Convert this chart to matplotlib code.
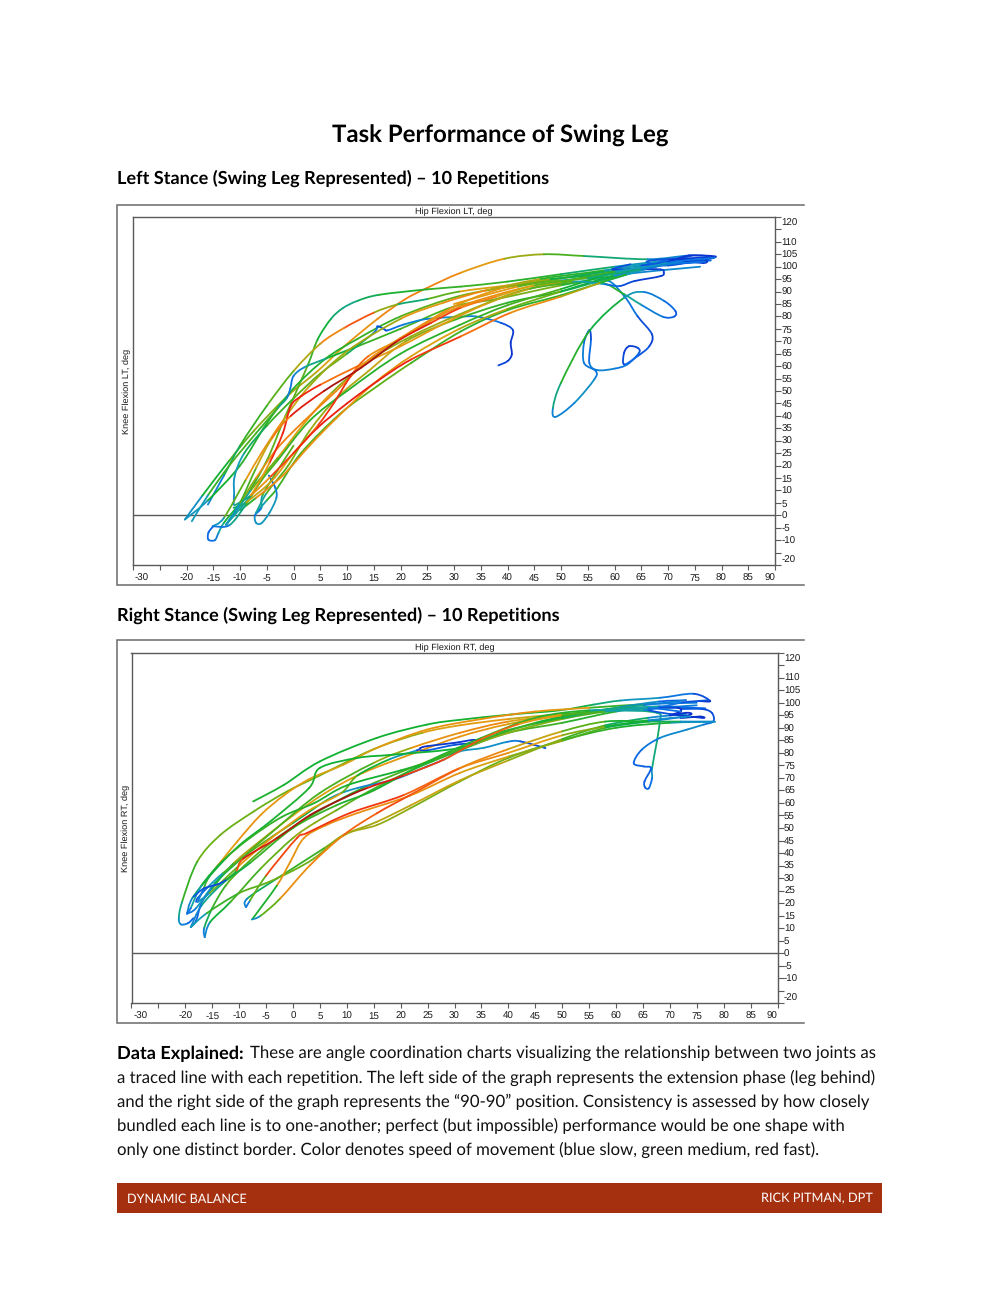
import matplotlib
matplotlib.use("Agg")
import matplotlib.pyplot as plt
from matplotlib.collections import PathCollection
from matplotlib.colors import LinearSegmentedColormap
from matplotlib.path import Path
from matplotlib.patches import Rectangle
from matplotlib.transforms import ScaledTranslation

plt.rcParams["text.hinting"] = "none"

# ---- text -------------------------------------------------------------
TITLE = "Task Performance of Swing Leg"
HEAD_L = "Left Stance (Swing Leg Represented) – 10 Repetitions"
HEAD_R = "Right Stance (Swing Leg Represented) – 10 Repetitions"
BODY_LEAD = "Data Explained:"
BODY = [
    "These are angle coordination charts visualizing the relationship between two joints as",
    "a traced line with each repetition. The left side of the graph represents the extension phase (leg behind)",
    "and the right side of the graph represents the “90-90” position. Consistency is assessed by how closely",
    "bundled each line is to one-another; perfect (but impossible) performance would be one shape with",
    "only one distinct border. Color denotes speed of movement (blue slow, green medium, red fast).",
]
FOOT_L = "DYNAMIC BALANCE"
FOOT_R = "RICK PITMAN, DPT"

# ---- axis ticks --------------------------------------------------------
X_TICKS = list(range(-30, 95, 5))
Y_TICKS = list(range(-20, 125, 5))
X_BLANK = [-25]
Y_BLANK = [-15, 115]

# ---- left stance traces: (hip, knee, speed 0 slow .. 1 fast) -----------
a01 = [(-20.3,-1.7,.1),(-17,8,.35),(-12,22,.5),(-7.4,34,.55),(-1.1,48,.6),(4.5,58,.65),(9.5,68,.7),(15.7,79,.75),(20.7,86.7,.78),(25,91.5,.78),(31.3,97.6,.75),(39.4,103.2,.65),(46.8,105,.55),(54.3,104.3,.45),(66.2,103,.25),(74,104.5,.15),(78.9,104,.08)]
a02 = [(-12.6,-3.8,.1),(-9,7,.45),(-5,22,.5),(-1.5,40,.55),(2.6,60,.5),(4.5,70.7,.45),(7,79,.38),(9.2,83.3,.33),(12,86.3,.33),(16,88.7,.42),(25,90.9,.45),(31.3,92,.48),(40,94,.48),(50,97,.42),(60,100,.3),(68,102,.2),(75,103,.12)]
a03 = [(76,102,.12),(66,100,.25),(52,96,.45),(42,93,.7),(31,90,.65),(25,87,.4),(19.4,84.8,.3),(15,81.5,.88),(9.5,75.4,.82),(5,69,.7),(0,58,.55),(-5,44,.5),(-10,28,.45),(-13,16,.3),(-16,4.3,.08)]
a04 = [(-20.3,-1.7,.1),(-16,6,.4),(-10,20,.45),(-5,37,.45),(0,51,.45),(6,63,.45),(12,71,.45),(20,80,.5),(31,88.2,.55),(42,92.5,.6),(52,96,.45),(60,99,.3),(70,102,.15),(74.5,104.5,.08)]
a07 = [(-7,1,.12),(-5,6,.45),(-3,11,.48),(1.4,25,.5),(8.8,41,.52),(15.7,52,.55),(22,61.3,.52),(31.3,74,.45),(40,82.5,.45),(50,88.5,.47),(58,94,.42),(65,98.5,.25),(72,102,.12)]
a08 = [(-4.6,16,.05),(-3.4,11,.15),(-3.2,7,.25),(-4.5,1,.25),(-6,-3.2,.25),(-7,-3,.25),(-7.2,0,.2),(-6,3,.08),(-5.8,8,.5),(-3,18,.5),(0,28,.55)]
a09 = [(76,100,.1),(62,97,.3),(50,92.5,.5),(38,87,.62),(30,84,.5),(20,75,.5),(12,68,.45),(6,63,.4),(2,59.5,.25),(0,56,.15),(-.6,51,.12),(-1.3,47,.2),(-3,43,.45),(-7,33,.5),(-12,20,.5),(-16,8,.45),(-19,-2.4,.08)]
a10 = [(-11.2,4.3,.1),(-11.1,8,.2),(-11,15.7,.27),(-9.2,25,.3),(-5,36,.45),(0,47,.5),(5,57,.55),(10,65,.55),(15,73.4,.2),(15.7,76,.08),(17,74.8,.06),(17.6,74.4,.08),(20.7,76.8,.18),(25,79,.2),(31.3,79.9,.2),(34.4,79.9,.18),(38.8,77.4,.1),(41,74.5,.05),(40.6,69.4,.03),(40.8,64.7,.03),(40,62,.04),(38.3,60.3,.08)]
a11 = [(30,85,.75),(42,92,.65),(50,94.5,.4),(58.1,94.9,.2),(61.8,88.2,.18),(64.3,80.1,.1),(67,72.8,.05),(66.5,68,.05),(64.3,64,.12),(61.8,60.7,.1),(61.8,65.4,.04),(62.7,68,.05),(64.3,67.4,.05),(64.6,65.4,.1),(62.4,60.7,.12),(60,59,.18),(56.8,58.4,.2),(55.3,61.3,.15),(55.6,70.7,.08),(55.3,74.5,.05),(54.3,69.4,.15),(54.3,61.3,.2),(56.5,58,.1),(56.2,54.6,.2),(52.5,45.2,.25),(49,39.6,.12),(48.5,43.2,.25),(50,53.3,.42),(55.3,74.1,.48),(61.8,87.5,.33),(65.5,89.8,.18),(69.3,86.2,.15),(71.4,82.1,.08),(71.1,79.9,.08),(69,79.9,.13),(64.9,84.8,.22),(61.8,88.9,.4),(57.4,93.6,.5),(50,93,.45),(42,90,.55),(31,80.8,.6),(22,72,.6),(14,62,.55),(7,49,.6),(2,37,.75),(-3,23,.6),(-8,10,.5),(-12.6,-3.8,.1)]
a12 = [(-15,-4.4,.1),(-15.9,-7,.1),(-15.9,-9.8,.12),(-14.7,-10,.15),(-14,-7,.2),(-13,-3,.4),(-10,5,.45),(-7,15,.7),(-3,27,.75),(2,38,.8),(8,50,.75),(14,62.5,.75),(22,74,.75),(31,85,.72),(40,92,.7),(48,95,.5),(58,97,.3),(66,100.5,.15),(72,103.5,.1)]
a13 = [(74,104.5,.1),(68,102,.2),(58,98.5,.35),(46,95,.55),(36,90.5,.7),(28,85.5,.8),(20,79,.62),(10,66,.6),(3,52,.6),(-2,38,.7),(-6,25,.75),(-9,14,.65),(-13,-1,.4),(-15.1,-4.4,.1)]
a15 = [(-7,1,.12),(-5,9,.5),(-1,20,.52),(3,34,.6),(8,47,.6),(14,58,.65),(21,70,.65),(30,78.5,.5),(40,85.5,.45),(50,90,.45),(60,96,.3),(68,100.5,.15),(77,102,.08)]
a17 = [(-10,2,.15),(-7,7,.75),(-2,16,.75),(3,28,.72),(8,39,.72),(15,53,.72),(22,64,.7),(31,75,.65),(40,83,.6),(50,90,.5),(60,96.5,.3),(70,101,.15),(78,102.5,.08)]
a18 = [(78.5,103.5,.08),(70,101,.2),(60,97.5,.35),(50,91,.5),(40,84.5,.5),(31,76.5,.45),(20,65,.45),(10,50,.45),(3,38,.45),(-3,22,.5),(-6,14,.5),(-9,4,.45),(-12,-4,.2),(-15.1,-4.4,.1)]
a19 = [(65,100.5,.1),(70,102,.05),(74,104.5,.02),(78.9,104,.03),(72,103,.05),(76.5,101.5,.02),(76.7,102.5,.02),(70,103,.05),(66,102,.1),(70,100.5,.1),(78.5,103.5,.05)]
a14 = [(63,101,.1),(59.6,98.9,.05),(64,99,.05),(68.6,98.9,.05),(69.2,97.6,.05),(68.6,96.2,.03),(63.7,94.2,.06),(60.9,92.2,.07),(58,93,.15),(52,94,.42),(44,91,.6),(36,85,.68),(28,77,.7),(20,68,.7),(12,60,.72),(5,52.5,.9),(1.5,48,.92),(-.5,44,.92),(-2,33,.92),(-4.5,21,.9),(-8,8,.5),(-12.6,-3.8,.1)]
a16 = [(77,102,.08),(70,101,.2),(60,98,.35),(50,94,.6),(42,91,.72),(30,83,.75),(20,71,.72),(14,64,.75),(10.7,56,.9),(7.5,45,.9),(4.5,36,.88),(0,25,.7),(-4,14,.7),(-9,5,.6),(-11.2,3,.1)]
a06 = [(-11,4,.1),(-8,8,.6),(-4.2,15.7,.85),(0,25,.9),(4.5,35.2,.92),(10,45,.93),(15.7,54,.92),(22,62.7,.92),(31.3,72,.85),(40.6,81.5,.78),(50,88,.7),(57.4,93.6,.55),(62.4,97,.35),(70,101.6,.2),(78.7,103.6,.08)]
a05 = [(-12.6,-3.8,.1),(-10,5,.4),(-7,19,.6),(-4,31,.7),(-.5,40,.9),(5.7,50,.97),(12.6,59.3,1),(19.4,70,.97),(25.7,77.4,.9),(31.3,83.5,.85),(38,88,.75),(45,92.5,.6),(55,95.5,.45),(65,99,.25),(72,102,.12)]
LEFT_TRACES = [a01,a02,a03,a04,a07,a08,a09,a10,a11,a12,a13,a15,a17,a18,a19,a14,a16,a06,a05]

# ---- right stance traces ---------------------------------------------
b01 = [(-7.4,60.6,.45),(-1.7,67.2,.42),(5,76.6,.42),(15.6,86,.42),(24.9,91.3,.42),(31,93.2,.43),(40.4,95.3,.43),(49.6,97,.42),(55.9,99.3,.38),(60.8,100.9,.3),(68.2,102,.2),(74.4,103.6,.1),(77.5,100.7,.04),(75.4,100.7,.02)]
b02 = [(75,99,.1),(68,98,.25),(60,97,.4),(50,95.5,.6),(40,93.5,.7),(31,91,.7),(24,88,.65),(15,81.5,.55),(5,71,.55),(-1.1,64.6,.55),(-7.3,56.6,.55),(-13.5,47.2,.55),(-17.8,36.5,.55),(-20.6,20.5,.4),(-21.2,14,.25),(-20.8,11.5,.2),(-19.5,12,.12),(-18.5,14,.1)]
b03 = [(-19,10.4,.08),(-18,13,.1),(-17,20,.1),(-15,26,.25),(-11,36,.6),(-6,45,.65),(0,55,.65),(6,64,.68),(13,72,.7),(22,79.5,.72),(31,86.5,.72),(40,91.5,.7),(50,95,.6),(60,97.5,.4),(68,98.5,.2),(74,98,.08)]
b06 = [(78.4,92.4,.1),(70,92,.42),(60,90,.45),(50,85,.48),(40,78,.55),(31,68.6,.55),(21.8,57.9,.58),(15.6,51.2,.6),(10,47.9,.62),(5.7,41.8,.5),(-3,29.8,.45),(-8.5,21.8,.3),(-8.8,18.5,.1)]
b09 = [(-16.4,6.4,.05),(-15.4,12.4,.35),(-11.6,20.5,.48),(-6,33.8,.5),(0,46,.58),(4,52,.6),(8,57,.55),(14,64.5,.5),(22,73,.48),(31,81,.45),(40,88,.48),(50,92,.5),(60,96.5,.4),(68,98.5,.2),(76.6,97.7,.08)]
b10 = [(76.6,97.7,.08),(70,98,.15),(60,97,.45),(50,93.5,.55),(40,88,.6),(31,81.5,.6),(22,74,.55),(13,66,.45),(5,57,.45),(-3,46,.5),(-9,35,.55),(-12.5,27,.5),(-15,18,.45),(-16.5,10,.3),(-16.4,6.4,.05)]
b11 = [(-19.7,15.8,.1),(-18,18,.2),(-14.5,28,.3),(-10,37,.5),(-3,50,.5),(5,64,.5),(15,76,.5),(22,82,.7),(31,88,.75),(40,92.5,.75),(50,95,.6),(60,97,.4),(67.6,96,.3),(68.1,92.6,.35),(67.6,84.6,.38),(66.7,73.9,.3),(66.7,69.9,.15),(66.1,65.9,.1),(65.4,66.2,.1),(65.3,68.6,.1),(66.5,73.9,.1),(65.1,74.6,.1),(63.3,75.9,.1),(64.8,81.3,.12),(68.2,86,.18),(73.2,89.3,.22),(76.3,91.3,.2),(78.1,92.6,.1),(77.8,96,.05),(76,97.5,.08),(72,97.5,.1)]
b12 = [(-18,20.5,.05),(-17.7,22,.1),(-16,26,.1),(-13,32,.45),(-7,42,.55),(0,52,.5),(7,62,.3),(12,66,.2),(18.7,69.3,.2),(24.9,74.6,.15),(28,77.3,.15),(31,80.6,.25),(35.4,82,.25),(39.8,84.4,.2),(42.2,84.6,.12),(46.9,81.9,.02)]
b13 = [(-17.7,20.5,.06),(-15.5,24,.4),(-10,35,.7),(-4,46,.72),(3,57,.7),(9,64,.65),(12,71,.45),(18,77.5,.4),(23,81,.1),(23.7,82,.02),(25,82.7,.03),(30,84,.05),(33.6,85.2,.02),(33.8,84,.02),(30,83.2,.1),(25,81,.08),(23.7,81,.02)]
b14 = [(75,100,.05),(66,99.5,.3),(55,98,.65),(45,96.5,.75),(35,93.5,.72),(24.9,89.3,.72),(15.6,82,.68),(9.4,75.3,.65),(3,69.5,.68),(-1.7,63,.7),(-6,55.2,.72),(-10.4,44.5,.72),(-15.4,31,.65),(-16.6,25.8,.3),(-17.7,20.5,.05)]
b15 = [(-19.7,15.8,.1),(-18.7,22,.3),(-15,32,.4),(-10,43,.42),(-4,53,.42),(3,66,.45),(5,74,.42),(12,78,.42),(18.7,79.3,.42),(31,82,.42),(38,88,.45),(50,94,.45),(60,98,.3),(68,100.5,.15),(73,101,.06)]
b16 = [(73,101,.1),(65,99,.25),(55,96.5,.42),(45,92,.45),(35,85,.5),(26,77,.45),(20,73,.42),(10,67,.42),(4,60,.45),(-2,54.5,.45),(-8,46,.48),(-13,37,.45),(-17,27,.4),(-19,18,.2),(-19.7,15.8,.05)]
b17 = [(77,101,.05),(72,100,.1),(65,97,.2),(55,97,.4),(45,94,.5),(35,86,.45),(25,76.5,.45),(15,65,.42),(8,59,.45),(0,50,.5),(-8,36,.45),(-13,28,.35),(-17,19,.3),(-19,10.4,.08)]
b18 = [(-19,10.4,.1),(-16,16,.45),(-10,24,.5),(-5,28,.55),(0,33,.55),(4,38,.55),(9.4,47,.6),(15.6,52.5,.62),(21.8,59,.66),(31,69,.66),(40,77,.62),(50,85.5,.55),(58,91,.42),(66,94,.3),(73,95.5,.1)]
b19 = [(68,98,.1),(71.5,98,.02),(72,96.5,.02),(70,95,.03),(73,96,.02),(74,95.5,.02),(72,94,.02),(75.6,94.5,.02),(76,94,.02),(70,95.5,.05),(66,97,.1)]
b08 = [(73,94.5,.05),(66,92.5,.3),(58,90,.45),(50,84.8,.55),(40,78.5,.62),(31,72,.72),(21.8,63,.72),(12,56,.75),(6,51,.75),(2,45.9,.72),(-.5,36.5,.72),(-3,27,.72),(-7.6,13.5,.15)]
b05 = [(-7.6,13.5,.1),(-6,15,.35),(-2.4,21.8,.72),(3.2,35.2,.75),(9.4,47.2,.8),(15.6,55.9,.85),(21.8,63.2,.88),(31,73.9,.8),(40,81.5,.7),(50,88.6,.6),(58,92.5,.45),(66,92.5,.42),(72,92.5,.35),(78.2,92.5,.1)]
b07 = [(-8.7,18.4,.1),(-8,21,.2),(-5,31,.85),(.7,45.9,.88),(2.6,48,.88),(10.6,56,.9),(20.6,63.2,.88),(31,73.9,.78),(40,80,.72),(50,87,.65),(58,90.5,.5),(66,93,.35),(73.8,94.6,.08)]
b04 = [(-18.5,22.5,.1),(-16.6,25.8,.08),(-14,27.5,.05),(-12.3,29.5,.08),(-10.5,33,.8),(-9.2,37.8,.92),(-3,45.9,.97),(3.2,55.2,.98),(9.4,61.9,1),(13.7,65.9,.97),(20.6,71,.9),(28,77.3,.85),(35,85.5,.85),(42,91.5,.8),(50,95,.6),(58,96.5,.4),(66,97.8,.2),(72,96.5,.05)]
RIGHT_TRACES = [b01,b02,b03,b06,b09,b10,b11,b12,b13,b14,b15,b16,b17,b18,b19,b08,b05,b07,b04]

# ---- styling ----------------------------------------------------------
W, H = 1000, 1294
GREY = "#5a5a5a"
TXT = "#1a1a1a"
SPEED = LinearSegmentedColormap.from_list("speed", [
    (0.00, "#0b22c8"), (0.12, "#0b6ee8"), (0.28, "#12a0b4"), (0.42, "#10b032"),
    (0.55, "#6cb014"), (0.68, "#e0a010"), (0.80, "#f57a10"), (0.92, "#f0200f"), (1.00, "#9c1010"),
])
fig = plt.figure(figsize=(W / 100, H / 100), dpi=100)
fig.patch.set_facecolor("white")


def rect(l, t, r, b):
    return [l / W, 1 - b / H, (r - l) / W, (b - t) / H]


def draw_traces(ax, traces):
    """One smooth curve piece per pair of read points, coloured by their speed."""
    for pts in traces:
        paths, cols = [], []
        n = len(pts)
        for i in range(n - 1):
            p0, p1, p2, p3 = pts[max(i - 1, 0)], pts[i], pts[i + 1], pts[min(i + 2, n - 1)]
            c1 = (p1[0] + (p2[0] - p0[0]) / 6, p1[1] + (p2[1] - p0[1]) / 6)
            c2 = (p2[0] - (p3[0] - p1[0]) / 6, p2[1] - (p3[1] - p1[1]) / 6)
            paths.append(Path([p1[:2], c1, c2, p2[:2]], [Path.MOVETO, Path.CURVE4, Path.CURVE4, Path.CURVE4]))
            cols.append(SPEED((p1[2] + p2[2]) / 2))
        pc = PathCollection(paths, facecolors="none", edgecolors=cols, linewidths=1.3,
                            capstyle="round", transform=ax.transData, zorder=3)
        ax.add_collection(pc, autolim=False)


def chart(box, frame, traces, xlab, ylab, ylab_x, xlab_x):
    # outer frame (open on the right)
    page.plot([frame[2], frame[0], frame[0], frame[2]], [frame[1], frame[1], frame[3], frame[3]],
              color="#6a6a6a", lw=1.1, solid_joinstyle="miter")
    ax = fig.add_axes(rect(*box))
    ax.set_xlim(-30, 90)
    ax.set_ylim(-20, 120)
    ax.patch.set_alpha(0)
    for s in ax.spines.values():
        s.set_color(GREY)
        s.set_linewidth(1.0)
    ax.axhline(0, color=GREY, lw=1.0, zorder=2)
    ax.set_xticks(X_TICKS)
    ax.set_xticklabels(["" if v in X_BLANK else str(v) for v in X_TICKS])
    ax.set_yticks(Y_TICKS)
    ax.set_yticklabels(["" if v in Y_BLANK else str(v) for v in Y_TICKS])
    ax.yaxis.tick_right()
    ax.tick_params(axis="x", length=3.5, width=.8, color=GREY, labelsize=7, labelcolor=TXT, pad=8)
    ax.tick_params(axis="y", length=4.5, width=.8, color=GREY, labelsize=7, labelcolor=TXT, pad=.2)
    for lab in ax.get_xticklabels() + ax.get_yticklabels():
        lab.set_family("Liberation Sans")
    for lab, v in zip(ax.get_xticklabels(), X_TICKS):
        lab.set_va("baseline")
        if v == -30:
            lab.set_ha("left")
            lab.set_transform(lab.get_transform() + ScaledTranslation(2 / 100, 0, fig.dpi_scale_trans))
        elif v == 90:
            lab.set_ha("right")
    for lab, v in zip(ax.get_yticklabels(), Y_TICKS):
        if v == 120:
            lab.set_va("top")
            lab.set_transform(lab.get_transform() + ScaledTranslation(0, -2 / 100, fig.dpi_scale_trans))
        elif v == -20:
            lab.set_va("bottom")
        else:
            lab.set_va("center_baseline")
    draw_traces(ax, traces)
    page.text(xlab_x, (frame[1] + box[1]) / 2 + 1, xlab, ha="center", va="center",
              fontsize=6.6, family="Liberation Sans", color=TXT)
    page.text(ylab_x, (box[1] + box[3]) / 2, ylab, ha="center", va="center", rotation=90,
              fontsize=6.6, family="Liberation Sans", color=TXT)


page = fig.add_axes([0, 0, 1, 1])
page.set_xlim(0, W)
page.set_ylim(H, 0)
page.axis("off")

FONT = "Lato"
page.text(500, 136, TITLE, ha="center", va="center", fontsize=17.3, fontweight="bold", family=FONT, color="black")
page.text(117, 178, HEAD_L, ha="left", va="center", fontsize=13.1, fontweight="bold", family=FONT, color="black")
page.text(117, 615, HEAD_R, ha="left", va="center", fontsize=13.1, fontweight="bold", family=FONT, color="black")

chart((133, 217, 775, 565), (117, 205, 804, 585), LEFT_TRACES,
      "Hip Flexion LT, deg", "Knee Flexion LT, deg", 127, 454)
chart((131.5, 652.7, 777.5, 1003.3), (117, 640, 804, 1023), RIGHT_TRACES,
      "Hip Flexion RT, deg", "Knee Flexion RT, deg", 126, 454.5)

BODY_Y = [1053.5, 1078, 1102, 1126, 1149.5]
page.text(117, BODY_Y[0], BODY_LEAD, ha="left", va="center", fontsize=13.1, fontweight="bold", family=FONT, color="black")
page.text(250, BODY_Y[0], BODY[0], ha="left", va="center", fontsize=12.1, family=FONT, color="#111111")
for y, line in zip(BODY_Y[1:], BODY[1:]):
    page.text(117, y, line, ha="left", va="center", fontsize=12.1, family=FONT, color="#111111")

page.add_patch(Rectangle((117, 1183), 765, 30, facecolor="#a5300f", edgecolor="none"))
page.text(127, 1199, FOOT_L, ha="left", va="center", fontsize=9.1, family=FONT, color="white")
page.text(873, 1199, FOOT_R, ha="right", va="center", fontsize=9.2, family=FONT, color="white")

fig.savefig("out.png", dpi=100, facecolor="white")
